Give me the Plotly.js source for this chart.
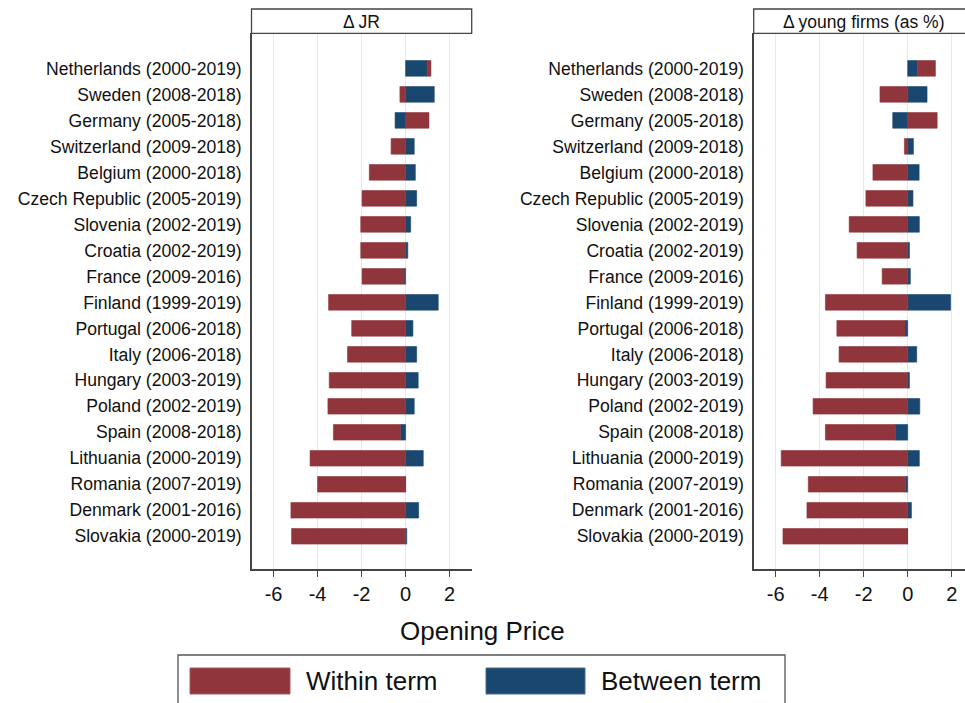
<!DOCTYPE html>
<html>
<head>
<meta charset="utf-8">
<script src="https://cdn.plot.ly/plotly-3.0.1.min.js"></script>
<style>
  html, body { margin: 0; padding: 0; background: #ffffff; }
  #chart { width: 965px; height: 703px; }
</style>
</head>
<body>
<div id="chart"></div>
<script>
// Countries (sample period), top to bottom
const countries = [
  'Netherlands (2000-2019)', 'Sweden (2008-2018)', 'Germany (2005-2018)',
  'Switzerland (2009-2018)', 'Belgium (2000-2018)', 'Czech Republic (2005-2019)',
  'Slovenia (2002-2019)', 'Croatia (2002-2019)', 'France (2009-2016)',
  'Finland (1999-2019)', 'Portugal (2006-2018)', 'Italy (2006-2018)',
  'Hungary (2003-2019)', 'Poland (2002-2019)', 'Spain (2008-2018)',
  'Lithuania (2000-2019)', 'Romania (2007-2019)', 'Denmark (2001-2016)',
  'Slovakia (2000-2019)'
];

// Δ JR decomposition
const jrWithin  = [0.17, -0.26, 1.06, -0.66, -1.65, -1.98, -2.04, -2.04, -1.91, -3.50,
                   -2.45, -2.64, -3.47, -3.53, -3.04, -4.34, -3.97, -5.21, -5.18];
const jrBetween = [0.98, 1.30, -0.48, 0.39, 0.44, 0.50, 0.23, 0.10, -0.07, 1.48,
                   0.33, 0.50, 0.57, 0.39, -0.24, 0.80, -0.03, 0.59, 0.05];

// Δ young firms (as %) decomposition
const youngWithin  = [0.82, -1.26, 1.34, -0.15, -1.58, -1.90, -2.66, -2.30, -1.16, -3.74,
                      -3.10, -3.12, -3.71, -4.30, -3.18, -5.75, -4.43, -4.58, -5.64];
const youngBetween = [0.44, 0.88, -0.68, 0.26, 0.52, 0.24, 0.53, 0.08, 0.12, 1.95,
                      -0.12, 0.41, 0.08, 0.55, -0.56, 0.53, -0.09, 0.17, -0.03];

const xTicks = [-6, -4, -2, 0, 2];
const panelTitles = ['\u0394 JR', '\u0394 young firms (as %)'];
const legendLabels = ['Within term', 'Between term'];
const axisTitle = 'Opening Price';

const RED = '#90353b';
const BLUE = '#1a476f';
const W = 965, H = 703;
const px = v => v / W;            // horizontal pixel -> paper
const py = v => (H - v) / H;      // vertical pixel (from top) -> paper

function bar(x, color, xa, ya) {
  return {
    type: 'bar', orientation: 'h', y: countries, x: x,
    xaxis: xa, yaxis: ya, width: 0.6,
    marker: { color: color, line: { color: color, width: 0.6 } },
    showlegend: false, hoverinfo: 'skip'
  };
}

const traces = [
  bar(jrBetween, BLUE, 'x', 'y'),
  bar(jrWithin, RED, 'x', 'y'),
  bar(youngBetween, BLUE, 'x2', 'y2'),
  bar(youngWithin, RED, 'x2', 'y2')
];

const font = 'Liberation Sans, Arial, Helvetica, sans-serif';
const order = countries.slice().reverse();

function xAxis(domain, range, anchor) {
  return {
    domain: domain, range: range, anchor: anchor,
    tickmode: 'array', tickvals: xTicks, ticktext: xTicks.map(String),
    ticks: 'outside', ticklen: 6, tickwidth: 1.3, tickcolor: '#444',
    showline: true, linecolor: '#444', linewidth: 1.3, mirror: false,
    showgrid: true, gridcolor: '#e2eaef', gridwidth: 1,
    zeroline: false, fixedrange: true,
    tickfont: { family: font, size: 20, color: '#111' }
  };
}
function yAxis(anchor) {
  return {
    domain: [py(569.3), py(33.3)], anchor: anchor,
    type: 'category', categoryorder: 'array', categoryarray: order,
    range: [-1.27, 19.35],
    ticks: '', showline: true, linecolor: '#444', linewidth: 1.3,
    showgrid: false, zeroline: false, fixedrange: true,
    ticklabelstandoff: 5,
    tickfont: { family: font, size: 17.6, color: '#111' }
  };
}

const box = (x0, x1, y0, y1, extra) => Object.assign({
  type: 'rect', xref: 'paper', yref: 'paper',
  x0: px(x0), x1: px(x1), y0: py(y1), y1: py(y0),
  line: { color: '#444', width: 1.3 }, fillcolor: 'rgba(0,0,0,0)'
}, extra || {});

const shapes = [
  // panel header strips
  box(251.5, 471.7, 9, 33.3),
  box(753.7, 980, 9, 33.3),
  // legend frame and swatches
  box(178, 785, 655, 720, { line: { color: '#555', width: 1.3 } }),
  box(190, 290, 668, 694, { fillcolor: RED, line: { color: '#a85a60', width: 1 } }),
  box(486, 585, 668, 694, { fillcolor: BLUE, line: { color: '#4a6e8e', width: 1 } })
];

const ann = (text, x, y, size, anchor) => ({
  text: text, xref: 'paper', yref: 'paper', x: px(x), y: py(y),
  xanchor: anchor || 'center', yanchor: 'middle', showarrow: false,
  font: { family: font, size: size, color: '#111' }
});

const annotations = [
  ann(panelTitles[0], 361.6, 21.5, 17.5),
  ann(panelTitles[1], 863.5, 21.5, 17.5),
  ann(axisTitle, 482.5, 631, 26),
  ann(legendLabels[0], 304, 681, 26, 'left'),
  ann(legendLabels[1], 599, 681, 26, 'left')
];

const layout = {
  width: W, height: H,
  margin: { l: 0, r: 0, t: 0, b: 0, pad: 0 },
  paper_bgcolor: '#ffffff', plot_bgcolor: '#ffffff',
  barmode: 'relative', bargap: 0.4,
  showlegend: false,
  xaxis: xAxis([px(251.5), px(471.7)], [-7, 3], 'y'),
  yaxis: yAxis('x'),
  xaxis2: xAxis([px(753.7), 1], [-7, 2.605], 'y2'),
  yaxis2: yAxis('x2'),
  shapes: shapes,
  annotations: annotations
};

Plotly.newPlot('chart', traces, layout, { staticPlot: true, displayModeBar: false });
</script>
</body>
</html>
